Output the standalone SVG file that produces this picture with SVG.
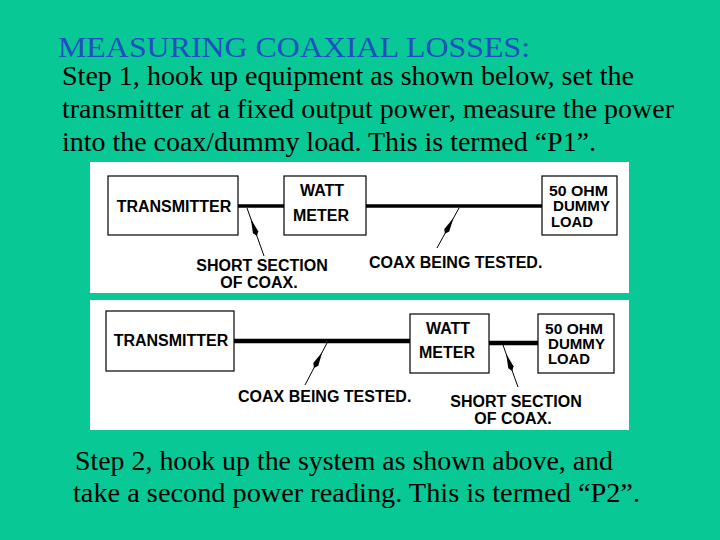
<svg xmlns="http://www.w3.org/2000/svg" width="720" height="540" viewBox="0 0 720 540">
<style>
.bg{fill:#08c896}
.panel{fill:#ffffff}
.box{fill:#ffffff;stroke:#000;stroke-width:1.2}
.lbl{font-family:"Liberation Sans",Arial,sans-serif;font-weight:bold;font-size:16px;fill:#000}
.sm{font-size:14.5px}
.mid{text-anchor:middle}
.body{font-family:"Liberation Serif","Times New Roman",serif;font-size:28px;fill:#000}
.title{font-family:"Liberation Serif","Times New Roman",serif;font-size:30px;fill:#1f4fc0}
.coax{stroke:#000;fill:none}
.ptr{stroke:#000;stroke-width:1;fill:none;marker-mid:url(#head)}
</style>
<defs>
<marker id="head" markerUnits="userSpaceOnUse" orient="auto" markerWidth="22" markerHeight="8" refX="0" refY="0" viewBox="-19 -4 20 8" overflow="visible">
<path d="M0,0 L-14,-2.8 L-18,0 L-14,2.8 Z" fill="#000"/>
</marker>
</defs>
<rect class="bg" x="0" y="0" width="720" height="540"/>
<g id="texts">
<text class="title" x="58" y="57" textLength="472" lengthAdjust="spacingAndGlyphs">MEASURING COAXIAL LOSSES:</text>
<text class="body" x="62" y="85" textLength="572" lengthAdjust="spacingAndGlyphs">Step 1, hook up equipment as shown below, set the</text>
<text class="body" x="62" y="118" textLength="612" lengthAdjust="spacingAndGlyphs">transmitter at a fixed output power, measure the power</text>
<text class="body" x="62" y="151" textLength="534" lengthAdjust="spacingAndGlyphs">into the coax/dummy load. This is termed “P1”.</text>
<text class="body" x="75" y="470" textLength="538" lengthAdjust="spacingAndGlyphs">Step 2, hook up the system as shown above, and</text>
<text class="body" x="73" y="502" textLength="567" lengthAdjust="spacingAndGlyphs">take a second power reading. This is termed “P2”.</text>
</g>
<rect class="panel" x="90" y="162" width="539" height="131"/>
<rect class="panel" x="90" y="300" width="539" height="130"/>
<g id="connectors">
<line class="coax" x1="238" y1="206" x2="284" y2="206" stroke-width="3.5"/>
<line class="coax" x1="366" y1="206" x2="542" y2="206" stroke-width="3.5"/>
<path class="ptr" d="M264,256 L250.9,219 L247,208"/>
<path class="ptr" d="M437,248 L453.5,218 L459,208"/>
<line class="coax" x1="234" y1="341" x2="410" y2="341" stroke-width="4.5"/>
<line class="coax" x1="489" y1="343" x2="538" y2="343" stroke-width="4.5"/>
<path class="ptr" d="M305,385 L322.3,352 L327,343"/>
<path class="ptr" d="M518,387 L506.2,354 L503,345"/>
</g>
<g id="p1-transmitter">
<rect class="box" x="108" y="176" width="130" height="59"/>
<text class="lbl mid" x="174" y="212">TRANSMITTER</text>
</g>
<g id="p1-wattmeter">
<rect class="box" x="284" y="176" width="82" height="59"/>
<text class="lbl mid" x="322" y="196">WATT</text>
<text class="lbl mid" x="321" y="221">METER</text>
</g>
<g id="p1-load">
<rect class="box" x="542" y="176" width="75" height="59"/>
<text class="lbl sm" x="549" y="196" textLength="59" lengthAdjust="spacingAndGlyphs">50 OHM</text>
<text class="lbl sm" x="553" y="211" textLength="57" lengthAdjust="spacingAndGlyphs">DUMMY</text>
<text class="lbl sm" x="551" y="227" textLength="42" lengthAdjust="spacingAndGlyphs">LOAD</text>
</g>
<g id="p1-labels">
<text class="lbl mid" x="262" y="271">SHORT SECTION</text>
<text class="lbl mid" x="259" y="288">OF COAX.</text>
<text class="lbl" x="369" y="268">COAX BEING TESTED.</text>
</g>
<g id="p2-transmitter">
<rect class="box" x="106" y="311" width="128" height="60"/>
<text class="lbl mid" x="171" y="346">TRANSMITTER</text>
</g>
<g id="p2-wattmeter">
<rect class="box" x="410" y="314" width="79" height="59"/>
<text class="lbl mid" x="448" y="334">WATT</text>
<text class="lbl mid" x="447" y="358">METER</text>
</g>
<g id="p2-load">
<rect class="box" x="538" y="314" width="76" height="59"/>
<text class="lbl sm" x="545" y="334" textLength="58" lengthAdjust="spacingAndGlyphs">50 OHM</text>
<text class="lbl sm" x="548" y="349" textLength="57" lengthAdjust="spacingAndGlyphs">DUMMY</text>
<text class="lbl sm" x="548" y="364" textLength="42" lengthAdjust="spacingAndGlyphs">LOAD</text>
</g>
<g id="p2-labels">
<text class="lbl" x="238" y="402">COAX BEING TESTED.</text>
<text class="lbl mid" x="516" y="407">SHORT SECTION</text>
<text class="lbl mid" x="513" y="424">OF COAX.</text>
</g>
</svg>
